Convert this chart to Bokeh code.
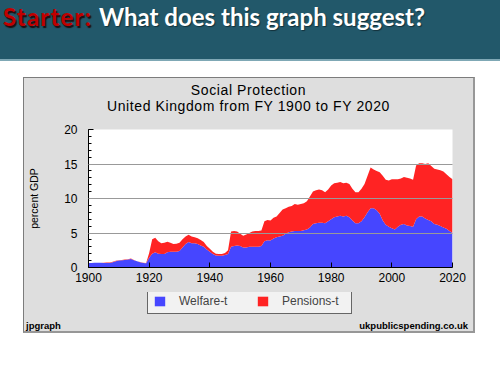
from bokeh.plotting import figure
from bokeh.models import (ColumnDataSource, Range1d, Legend, LegendItem, Div,
                          SingleIntervalTicker, FixedTicker)
from bokeh.layouts import column
from bokeh.embed import file_html
from bokeh.resources import INLINE

# ---------------- data ----------------
years = list(range(1900, 2021))
welfare = [
    0.65, 0.65, 0.68, 0.68, 0.68, 0.65, 0.65, 0.65, 0.75, 0.90,
    1.00, 1.05, 1.10, 1.15, 1.25, 1.05, 0.90, 0.75, 0.65, 0.62,
    1.40, 2.00, 2.20, 2.00, 1.95, 1.95, 2.20, 2.30, 2.30, 2.30,
    2.40, 2.90, 3.40, 3.70, 3.50, 3.50, 3.40, 3.20, 3.00, 2.60,
    2.30, 1.95, 1.75, 1.70, 1.70, 1.80, 1.95, 3.00, 3.10, 3.20,
    3.10, 2.90, 2.90, 3.00, 3.00, 3.00, 3.00, 3.10, 3.80, 3.95,
    3.90, 4.20, 4.40, 4.50, 4.60, 4.90, 5.10, 5.20, 5.30, 5.30,
    5.30, 5.40, 5.50, 5.80, 6.30, 6.40, 6.50, 6.50, 6.40, 6.70,
    7.00, 7.30, 7.40, 7.50, 7.40, 7.50, 7.30, 6.80, 6.40, 6.40,
    6.70, 7.30, 8.00, 8.60, 8.60, 8.30, 7.80, 6.80, 6.20, 5.90,
    5.70, 5.50, 5.90, 6.20, 6.30, 6.10, 6.00, 5.90, 7.00, 7.40,
    7.40, 7.10, 6.90, 6.70, 6.30, 6.20, 6.00, 5.80, 5.60, 5.30,
    5.00,
]
pensions = [
    0.00, 0.00, 0.00, 0.00, 0.00, 0.03, 0.07, 0.07, 0.10, 0.07,
    0.05, 0.03, 0.05, 0.05, 0.05, 0.05, 0.02, 0.03, 0.03, 0.03,
    0.70, 2.10, 2.10, 1.80, 1.55, 1.65, 1.55, 1.30, 1.10, 1.15,
    1.20, 1.20, 1.10, 1.05, 1.00, 0.90, 0.85, 0.80, 0.70, 0.50,
    0.40, 0.35, 0.25, 0.25, 0.25, 0.30, 0.55, 2.20, 2.20, 2.00,
    1.80, 1.70, 1.90, 2.00, 2.20, 2.30, 2.30, 2.25, 2.90, 2.95,
    2.90, 3.00, 3.00, 3.40, 3.80, 3.70, 3.70, 3.70, 3.90, 3.80,
    3.90, 3.90, 4.10, 4.50, 4.70, 4.80, 4.80, 4.70, 4.50, 4.60,
    4.90, 4.90, 4.90, 4.90, 4.80, 4.80, 4.80, 4.60, 4.50, 4.50,
    4.70, 4.80, 5.30, 5.90, 5.60, 5.70, 6.00, 6.50, 6.50, 6.70,
    7.10, 7.30, 6.90, 6.70, 6.80, 6.90, 6.90, 6.80, 7.80, 7.70,
    7.70, 7.90, 8.20, 8.00, 8.00, 8.00, 8.10, 8.10, 7.90, 7.80,
    7.80,
]
series_labels = ["Welfare-t", "Pensions-t"]
x_ticks = [1900, 1920, 1940, 1960, 1980, 2000, 2020]
grid_ticks = [5, 10, 15, 20]

title_lines = ["Social Protection", "United Kingdom from FY 1900 to FY 2020"]
header_red = "Starter:"
header_white = "What does this graph suggest?"
footer_left = "jpgraph"
footer_right = "ukpublicspending.co.uk"

BLUE = "#4646FF"
RED = "#FF2323"
GRAY_BG = "#DEDEDE"
FONT = "Liberation Sans"
INNER_W = 449

# ---------------- header bar ----------------
header_html = (
    '<div style="position:relative;width:500px;height:61px;background:#22586A;'
    'border-bottom:2px solid #7FA8B5;overflow:hidden;font-family:Lato,sans-serif;'
    'font-weight:bold;font-size:24px;line-height:24px;">'
    '<span style="position:absolute;left:3px;top:5px;color:#C00000;letter-spacing:1.2px;'
    'text-shadow:1.5px 1.5px 1px rgba(30,0,0,0.85);white-space:nowrap;">'
    f'{header_red}</span>'
    '<span style="position:absolute;left:99px;top:5px;color:#FFFFFF;'
    'text-shadow:1px 1px 1px rgba(0,0,0,0.45);white-space:nowrap;">'
    f'{header_white}</span></div>'
)
header_div = Div(text=header_html, width=500, height=63, margin=0)

# ---------------- chart titles ----------------
title_html = (
    f'<div style="position:relative;width:{INNER_W}px;height:37px;background:{GRAY_BG};'
    f'text-align:center;font-family:\'{FONT}\',Arial,sans-serif;font-size:14px;'
    'letter-spacing:0.6px;line-height:15.5px;color:#000;">'
    f'<div style="position:absolute;left:0;right:0;top:5px;">{title_lines[0]}</div>'
    f'<div style="position:absolute;left:0;right:0;top:20.5px;">{title_lines[1]}</div>'
    '</div>'
)
title_div = Div(text=title_html, width=INNER_W, height=37, margin=0)

# ---------------- footer ----------------
footer_html = (
    f'<div style="position:relative;width:{INNER_W}px;height:14px;background:{GRAY_BG};'
    f'font-family:\'{FONT}\',Arial,sans-serif;font-weight:bold;font-size:9.5px;'
    'line-height:10px;color:#000;">'
    f'<span style="position:absolute;left:2px;top:4px;">{footer_left}</span>'
    f'<span style="position:absolute;right:5px;top:4px;">{footer_right}</span></div>'
)
footer_div = Div(text=footer_html, width=INNER_W, height=14, margin=0)

# ---------------- main plot ----------------
p = figure(width=INNER_W, height=177, x_range=Range1d(1900, 2020),
           y_range=Range1d(0, 20), output_backend="svg", toolbar_location=None,
           min_border_left=64, min_border_right=21, min_border_top=14,
           min_border_bottom=25, margin=0)
p.border_fill_color = GRAY_BG
p.background_fill_color = "white"
p.outline_line_color = None

source = ColumnDataSource(dict(year=years, welfare=welfare, pensions=pensions))
rs = p.varea_stack(["welfare", "pensions"], x="year", source=source,
                   color=[BLUE, RED])

yax = p.yaxis[0]
yax.ticker = SingleIntervalTicker(interval=5, num_minor_ticks=5)
yax.major_tick_in = 5
yax.major_tick_out = 0
yax.minor_tick_in = 3
yax.minor_tick_out = 0
yax.axis_line_color = "black"
yax.major_tick_line_color = "black"
yax.minor_tick_line_color = "black"
yax.major_label_text_font = FONT
yax.major_label_text_font_size = "12px"
yax.major_label_text_color = "black"
yax.major_label_standoff = 11
yax.axis_label = "percent GDP"
yax.axis_label_text_font = FONT
yax.axis_label_text_font_size = "10.5px"
yax.axis_label_text_font_style = "normal"
yax.axis_label_text_color = "black"
yax.axis_label_standoff = 21

xax = p.xaxis[0]
xax.ticker = FixedTicker(ticks=x_ticks)
xax.major_tick_in = 5
xax.major_tick_out = 0
xax.minor_tick_in = 0
xax.minor_tick_out = 0
xax.axis_line_color = "black"
xax.major_tick_line_color = "black"
xax.major_label_text_font = FONT
xax.major_label_text_font_size = "12px"
xax.major_label_text_color = "black"
xax.major_label_standoff = 5

p.xgrid.visible = False
p.ygrid.ticker = FixedTicker(ticks=grid_ticks)
p.ygrid.grid_line_color = "#999999"
p.ygrid.level = "overlay"

# ---------------- legend strip ----------------
# same series drawn on a strip whose ranges keep the areas out of view,
# so only the legend (with real swatches) shows
lg = figure(width=INNER_W, height=25, x_axis_type=None, y_axis_type=None,
            x_range=Range1d(0, 1), y_range=Range1d(0, 1),
            output_backend="svg", toolbar_location=None, min_border=0, margin=0)
lg.border_fill_color = GRAY_BG
lg.background_fill_color = GRAY_BG
lg.outline_line_color = None
lg.grid.visible = False
lrs = lg.varea_stack(["welfare", "pensions"], x="year", source=source,
                     color=[BLUE, RED])
legend = Legend(items=[LegendItem(label=series_labels[0], renderers=[lrs[0]]),
                       LegendItem(label=series_labels[1], renderers=[lrs[1]])],
                location=(59, 3), orientation="horizontal", padding=5,
                spacing=13, label_standoff=13, glyph_width=13, glyph_height=12,
                label_height=12, label_width=64, margin=0,
                label_text_font=FONT, label_text_font_size="12px",
                border_line_color="#666666", border_line_width=1.2,
                border_line_alpha=1,
                background_fill_color="#F2F2F2", background_fill_alpha=1)
lg.add_layout(legend)

chart_box = column(
    title_div, p, lg, footer_div, margin=(14, 0, 0, 23), spacing=0,
    styles={"background-color": GRAY_BG,
            "border-left": "1px solid #7c7c7c", "border-top": "1px solid #7c7c7c",
            "border-right": "2px solid #979797", "border-bottom": "2px solid #979797"})

root = column(header_div, chart_box, spacing=0, margin=0)

open("out.html", "w").write(file_html(root, INLINE))
